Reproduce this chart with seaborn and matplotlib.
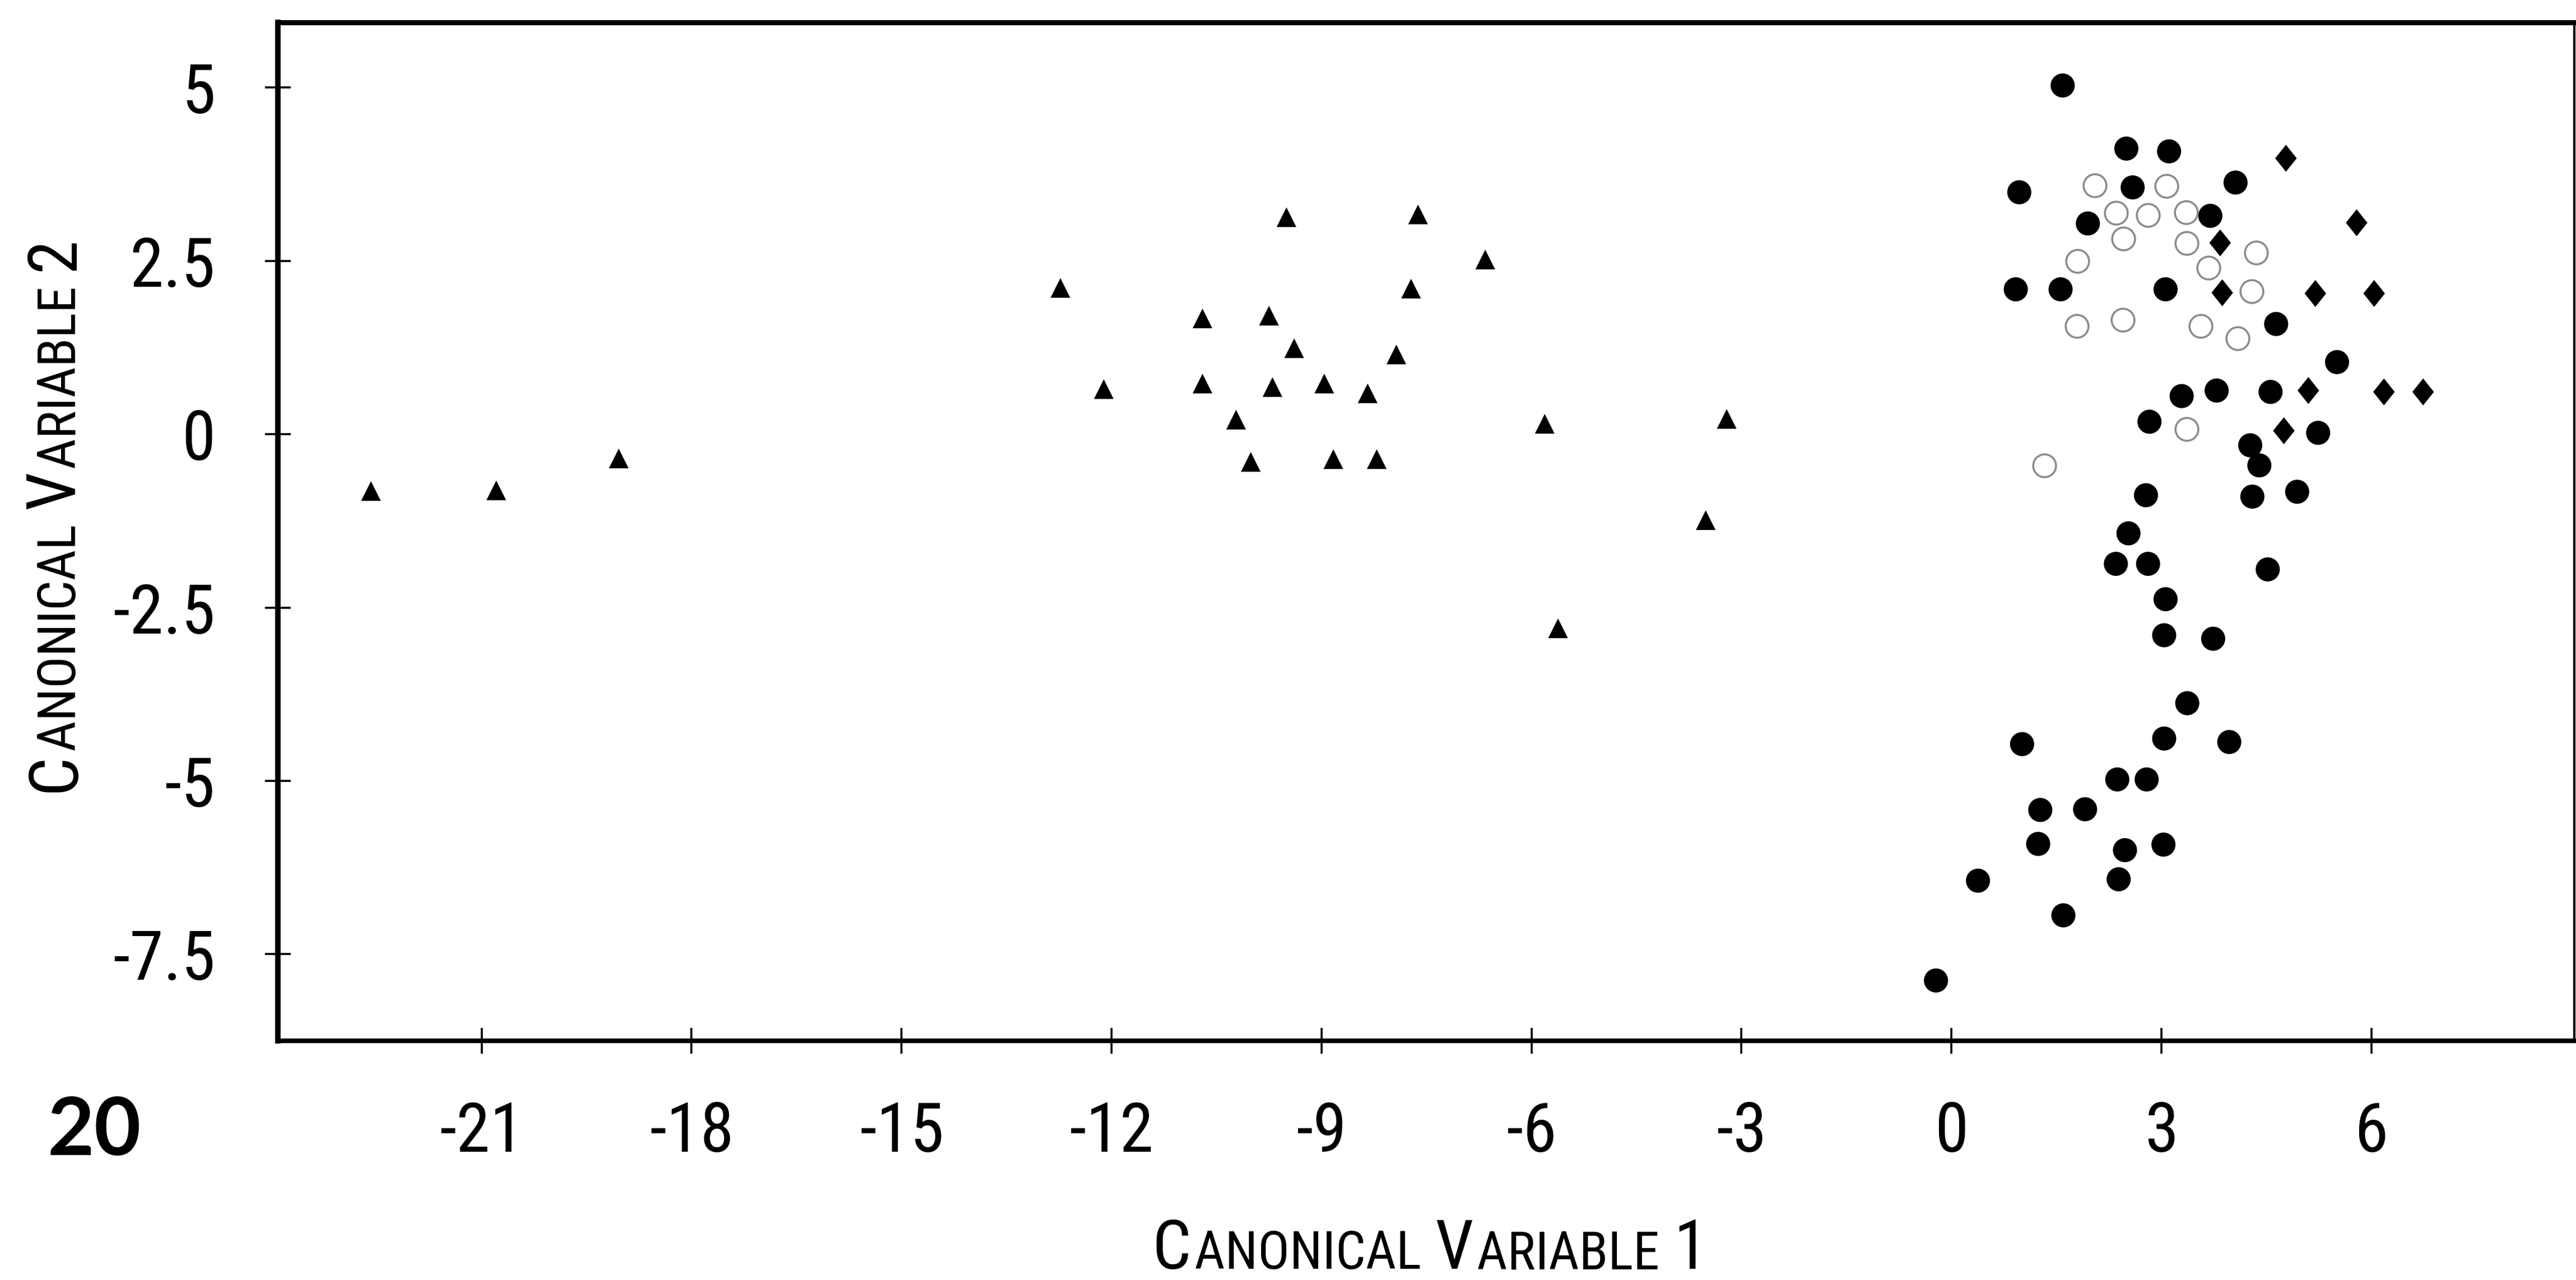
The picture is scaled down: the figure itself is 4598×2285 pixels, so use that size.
import matplotlib
matplotlib.use("Agg")
import matplotlib.pyplot as plt
from matplotlib import font_manager
from matplotlib.font_manager import FontProperties
from matplotlib.path import Path
import numpy as np
import pandas as pd
import seaborn as sns

# ---------------- data ----------------
tri_x = [-22.58, -20.79, -19.04, -12.73, -12.11, -10.70, -10.70, -10.22, -10.01,
         -9.75, -9.70, -9.50, -9.39, -8.96, -8.83, -8.34, -8.21, -7.93, -7.72,
         -7.62, -6.66, -5.81, -5.62, -3.51, -3.21]
tri_y = [-0.82, -0.81, -0.35, 2.11, 0.65, 1.67, 0.73, 0.21, -0.40,
         1.71, 0.68, 3.13, 1.24, 0.73, -0.36, 0.59, -0.36, 1.15, 2.10,
         3.17, 2.52, 0.15, -2.80, -1.24, 0.22]

dot_x = [1.59, 2.50, 3.11, 0.97, 2.59, 4.06, 3.70, 1.95, 0.92, 1.56, 3.06, 4.64,
         5.51, 3.29, 3.79, 4.56, 2.83, 5.24, 4.27, 4.40, 2.78, 4.30, 4.94,
         2.53, 2.35, 2.81, 4.52, 3.06, 3.04, 3.74, 3.37, 1.01, 3.04, 3.97,
         2.37, 2.79, 1.27, 1.91, 1.24, 2.48, 3.03, 0.38, 2.39, 1.60, -0.22]
dot_y = [5.03, 4.12, 4.08, 3.49, 3.56, 3.63, 3.15, 3.04, 2.09, 2.09, 2.09, 1.59,
         1.04, 0.55, 0.63, 0.61, 0.18, 0.02, -0.16, -0.45, -0.88, -0.90, -0.83,
         -1.43, -1.87, -1.87, -1.95, -2.38, -2.90, -2.95, -3.88, -4.47, -4.39, -4.44,
         -4.98, -4.98, -5.42, -5.41, -5.91, -6.00, -5.92, -6.44, -6.42, -6.94, -7.88]

ring_x = [2.05, 3.07, 2.35, 2.81, 3.35, 2.46, 3.36, 4.35, 1.80, 3.67, 4.29,
          1.79, 2.45, 3.56, 4.09, 3.36, 1.33]
ring_y = [3.59, 3.58, 3.19, 3.16, 3.20, 2.82, 2.76, 2.62, 2.50, 2.40, 2.06,
          1.56, 1.65, 1.56, 1.38, 0.07, -0.45]

dia_x = [4.78, 5.79, 3.84, 3.87, 5.20, 6.04, 5.10, 6.18, 6.74, 4.75]
dia_y = [3.98, 3.05, 2.76, 2.04, 2.03, 2.03, 0.63, 0.61, 0.61, 0.05]

x_ticks = [-21, -18, -15, -12, -9, -6, -3, 0, 3, 6]
x_tick_labels = ["-21", "-18", "-15", "-12", "-9", "-6", "-3", "0", "3", "6"]
y_ticks = [5, 2.5, 0, -2.5, -5, -7.5]
y_tick_labels = ["5", "2.5", "0", "-2.5", "-5", "-7.5"]

xlabel_parts = [("C", True), ("ANONICAL", False), ("V", True), ("ARIABLE", False), ("1", True)]
ylabel_parts = [("C", True), ("ANONICAL", False), ("V", True), ("ARIABLE", False), ("2", True)]
figure_number = "20"

# ---------------- style ----------------
sns.set_theme(style="white")
plt.rcParams["font.family"] = ["DejaVu Sans"]
plt.rcParams["axes.edgecolor"] = "black"


def pick_narrow_font():
    """Find a condensed / narrow sans face among the installed fonts."""
    best, best_key = None, None
    for f in font_manager.fontManager.ttflist:
        low = (f.fname + " " + f.name).lower()
        if not ("narrow" in low or "condensed" in low or "cond" in f.fname.lower()):
            continue
        if f.style != "normal":
            continue
        w = f.weight if isinstance(f.weight, (int, float)) else 400
        if w > 450:
            continue
        fam = f.name.lower()
        if "liberation" in fam:
            pr = 0
        elif "roboto" in fam:
            pr = 1
        elif "dejavu" in fam:
            pr = 2
        elif "noto sans" in fam and "cjk" not in fam and "mono" not in fam:
            pr = 3
        elif "open sans" in fam:
            pr = 4
        else:
            pr = 6
        base = f.fname.lower()
        sub = 0
        if "semicondensed" in base or "semi" in base:
            sub = 2
        elif "extracondensed" in base or "extra" in base:
            sub = 1
        key = (pr, sub, abs(w - 370))
        if best_key is None or key < best_key:
            best, best_key = f.fname, key
    return best


NARROW_FILE = pick_narrow_font()


def narrow_fp(size):
    if NARROW_FILE:
        return FontProperties(fname=NARROW_FILE, size=size)
    return FontProperties(family="DejaVu Sans", size=size * 0.9)


W, H, DPI = 4598, 2285, 200
fig = plt.figure(figsize=(W / DPI, H / DPI), dpi=DPI)
fig.patch.set_facecolor("white")

left_px, right_px, top_px, bottom_px = 496, 4595, 40, 1858
ax = fig.add_axes([left_px / W, 1 - bottom_px / H,
                   (right_px - left_px) / W, (bottom_px - top_px) / H])
ax.set_facecolor("white")

tri = pd.DataFrame({"cv1": tri_x, "cv2": tri_y})
dots = pd.DataFrame({"cv1": dot_x, "cv2": dot_y})
rings = pd.DataFrame({"cv1": ring_x, "cv2": ring_y})
dias = pd.DataFrame({"cv1": dia_x, "cv2": dia_y})

diamond = Path([(0, 1), (0.8, 0), (0, -1), (-0.8, 0), (0, 1)],
               [Path.MOVETO, Path.LINETO, Path.LINETO, Path.LINETO, Path.CLOSEPOLY])

sns.scatterplot(data=rings, x="cv1", y="cv2", marker="o", s=215, color="white",
                edgecolor="#8c8c8c", linewidth=1.3, ax=ax, zorder=2)
sns.scatterplot(data=tri, x="cv1", y="cv2", marker="^", s=160, color="black",
                edgecolor="none", linewidth=0, ax=ax, zorder=3)
sns.scatterplot(data=dots, x="cv1", y="cv2", marker="o", s=240, color="black",
                edgecolor="none", linewidth=0, ax=ax, zorder=4)
sns.scatterplot(data=dias, x="cv1", y="cv2", marker=diamond, s=300, color="black",
                edgecolor="none", linewidth=0, ax=ax, zorder=4)

ax.set_xlim(-23.91, 8.90)
ax.set_ylim(-8.75, 5.94)
ax.set_xticks(x_ticks)
ax.set_xticklabels(x_tick_labels)
ax.set_yticks(y_ticks)
ax.set_yticklabels(y_tick_labels)
ax.set_xlabel("")
ax.set_ylabel("")
ax.grid(False)

ax.tick_params(axis="both", direction="inout", length=16.5, width=1.3,
               colors="black", labelsize=44, bottom=True, left=True,
               top=False, right=False)
ax.tick_params(axis="x", pad=30)
ax.tick_params(axis="y", pad=32)
tick_fp = narrow_fp(44)
for lbl in ax.get_xticklabels() + ax.get_yticklabels():
    lbl.set_fontproperties(tick_fp)

for side, lw in (("left", 3.5), ("bottom", 3.0), ("top", 3.3), ("right", 1.5)):
    ax.spines[side].set_visible(True)
    ax.spines[side].set_linewidth(lw)
    ax.spines[side].set_color("black")

# ---------------- small-caps axis titles ----------------
BIG, SMALL = 44, 34
DESC = 0.21  # descent fraction of em


def smallcaps(parts, x_px, y_px, rotation=0):
    prev, prev_size = None, None
    for i, (txt, big) in enumerate(parts):
        size = BIG if big else SMALL
        fp = narrow_fp(size)
        gap = 2 if not big else (0 if i == 0 else 9)
        if prev is None:
            if rotation == 0:
                prev = fig.text(x_px / W, 1 - y_px / H, txt, fontproperties=fp,
                                ha="left", va="baseline", color="black")
            else:
                d_px = DESC * size * DPI / 72
                prev = fig.text((x_px + d_px) / W, 1 - y_px / H, txt, fontproperties=fp,
                                ha="right", va="bottom", rotation=90, color="black")
        else:
            dd = DESC * (prev_size - size)
            if rotation == 0:
                prev = ax.annotate(txt, xy=(1, 0), xycoords=prev, xytext=(gap, dd),
                                   textcoords="offset points", ha="left", va="bottom",
                                   fontproperties=fp, color="black",
                                   annotation_clip=False)
            else:
                prev = ax.annotate(txt, xy=(1, 1), xycoords=prev, xytext=(-dd, gap),
                                   textcoords="offset points", ha="right", va="bottom",
                                   rotation=90, fontproperties=fp,
                                   color="black", annotation_clip=False)
        prev_size = size


smallcaps(xlabel_parts, 2057, 2265, rotation=0)
smallcaps(ylabel_parts, 132, 1414, rotation=90)

fig.text(85 / W, 1 - 2062 / H, figure_number, fontsize=52, fontweight="bold",
         family=["Lato", "DejaVu Sans"], ha="left", va="baseline", color="black")

fig.savefig("out.png", dpi=DPI, facecolor="white")
